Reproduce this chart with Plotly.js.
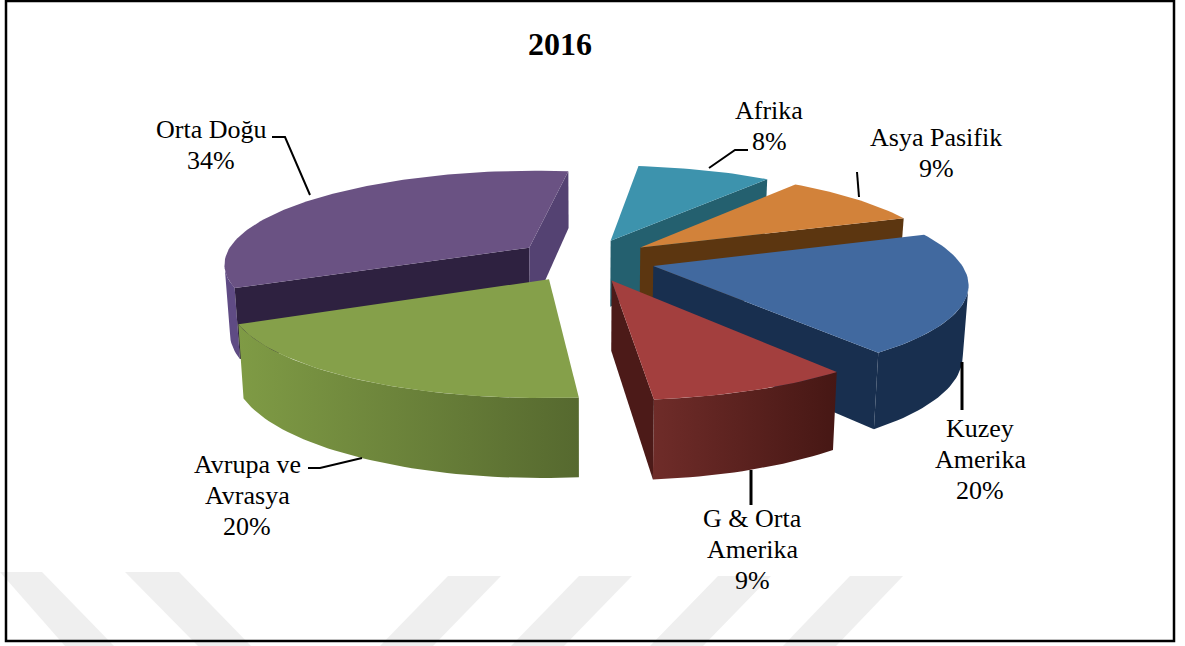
<!DOCTYPE html>
<html><head><meta charset="utf-8">
<script src="https://cdn.plot.ly/plotly-3.0.1.min.js"></script>
<style>html,body{margin:0;padding:0;background:#fff}#c{width:1185px;height:646px}</style>
</head><body><div id="c"></div><script>
// --- data (clockwise from the start angle)
const categories = ["Afrika","Asya Pasifik","Kuzey Amerika","G & Orta Amerika","Avrupa ve Avrasya","Orta Doğu"];
const shares = [8.4,9.0,20.3,8.8,19.6,33.9];
const labelLines = [["Afrika","8%"],["Asya Pasifik","9%"],["Kuzey","Amerika","20%"],["G & Orta","Amerika","9%"],["Avrupa ve","Avrasya","20%"],["Orta Doğu","34%"]];
const labelX = [769,936,980,752,247,211];
const labelY = [110,137,428,518,464,129];
const titleText = "2016";

// --- styles
const topColors = ["#3d93ad","#d2823a","#41699f","#a33f3e","#85a04a","#6a5283"];
const startWall = ["#2a6c80","#7a4a18","#1a3250","#7a2a28","#6f8a3e","#2e2140"];
const endWall   = ["#24606f","#5c3610","#182f4f","#4c1a18","#6f8a3e","#544272"];
const outerL    = ["#2a6c80","#7a4a18","#182f4f","#6f2c29","#7f9b45","#5f4b84"];
const outerR    = ["#2a6c80","#7a4a18","#182f4f","#461714","#56692f","#5f4b84"];
const drawOrder = [5,0,1,2,4,3];

// --- projection of the tilted pie onto the page
const startDeg=7, cx=585, cy=260, rx=306, ry=93, persp=0.16, pull=0.23, viewer=4;
function project(u,v,low){
  const s=1/(1+persp*v);
  let x=cx+rx*u*s, y=cy-ry*v*s;
  if(low){ x=cx+(x-cx)*0.985; y+=68-10*v; }
  return [x,y];
}
function rad(d){return d*Math.PI/180;}
function poly(pts,color,left,right){
  const xs=pts.map(p=>p[0]).concat(pts[0][0]);
  const ys=pts.map(p=>p[1]).concat(pts[0][1]);
  const t={type:"scatter",mode:"lines",x:xs,y:ys,fill:"toself",fillcolor:color,
           line:{width:0,color:color},hoverinfo:"skip",showlegend:false};
  if(left&&left!==right) t.fillgradient={type:"horizontal",colorscale:[[0,left],[1,right]]};
  return t;
}
const total=shares.reduce((a,b)=>a+b,0);
let acc=startDeg; const bounds=shares.map(s=>{const a=[acc,acc+s/total*360];acc=a[1];return a;});
const traces=[];
drawOrder.forEach(i=>{
  const [a0,a1]=bounds[i], mid=rad((a0+a1)/2);
  const ou=pull*Math.sin(mid), ov=pull*Math.cos(mid);
  const n=Math.ceil((a1-a0)/1.5), arc=[];
  for(let j=0;j<=n;j++){const d=rad(a0+(a1-a0)*j/n);arc.push([ou+Math.sin(d),ov+Math.cos(d)]);}
  const top=arc.map(p=>project(p[0],p[1],false)), low=arc.map(p=>project(p[0],p[1],true));
  const apexT=project(ou,ov,false), apexL=project(ou,ov,true);
  const faces=a=>Math.sin(rad(a))*(-ou)+Math.cos(rad(a))*(-viewer-ov)>0;
  // the rim shows only where the arc runs right-to-left on the page
  const vis=top.map((p,j)=>(j<n&&top[j+1][0]<p[0])||(j>0&&top[j-1][0]>p[0]));
  const rimTop=top.filter((p,j)=>vis[j]), rimLow=low.filter((p,j)=>vis[j]);
  if(rimTop.length>1) traces.push(poly(rimTop.concat(rimLow.slice().reverse()),outerL[i],outerL[i],outerR[i]));
  if(faces(a0-90)) traces.push(poly([apexT,top[0],low[0],apexL],startWall[i]));
  if(faces(a1+90)) traces.push(poly([apexT,top[top.length-1],low[low.length-1],apexL],endWall[i]));
  traces.push(poly([apexT].concat(top),topColors[i]));
});

// --- text
const ann=[{x:560,y:44,text:titleText,showarrow:false,xanchor:"center",yanchor:"middle",
            font:{family:"Liberation Serif",size:32,color:"#000",weight:700}}];
labelLines.forEach((ls,i)=>ls.forEach((t,j)=>ann.push({x:labelX[i],y:labelY[i]+j*31,text:t,showarrow:false,
   xanchor:"center",yanchor:"middle",font:{family:"Liberation Serif",size:26,color:"#000"}})));

// --- furniture: watermark stripes, frame, leader lines
const stripes=[[0,42,65,114,572],[125,179,198,251,572],[448,501,380,433,576],[579,632,511,564,576],[718,771,650,703,576],[850,903,783,836,576]];
const shapes=stripes.map(s=>({type:"path",layer:"below",line:{width:0},fillcolor:"#efefef",
   path:`M${s[0]},${s[4]}L${s[1]},${s[4]}L${s[3]},646L${s[2]},646Z`}));
shapes.push({type:"rect",x0:6,y0:1,x1:1174,y1:641,line:{color:"#000",width:2.5},layer:"above"});
const leaders=[["M272,137L285,137L310,195",2],["M748,150L735,150L709,168",2],["M857,172L859,197",2],
               ["M962,362L962,410",3],["M751,470L751,505",3],["M308,468L320,468L362,458",2]];
leaders.forEach(l=>shapes.push({type:"path",path:l[0],line:{color:"#000",width:l[1]},layer:"above"}));

const ax={range:[0,1185],visible:false,fixedrange:true};
Plotly.newPlot("c",traces,{width:1185,height:646,margin:{l:0,r:0,t:0,b:0},paper_bgcolor:"#fff",plot_bgcolor:"rgba(0,0,0,0)",
  showlegend:false,xaxis:Object.assign({},ax),yaxis:Object.assign({},ax,{range:[646,0]}),annotations:ann,shapes:shapes},
  {staticPlot:true,displayModeBar:false});
</script></body></html>
